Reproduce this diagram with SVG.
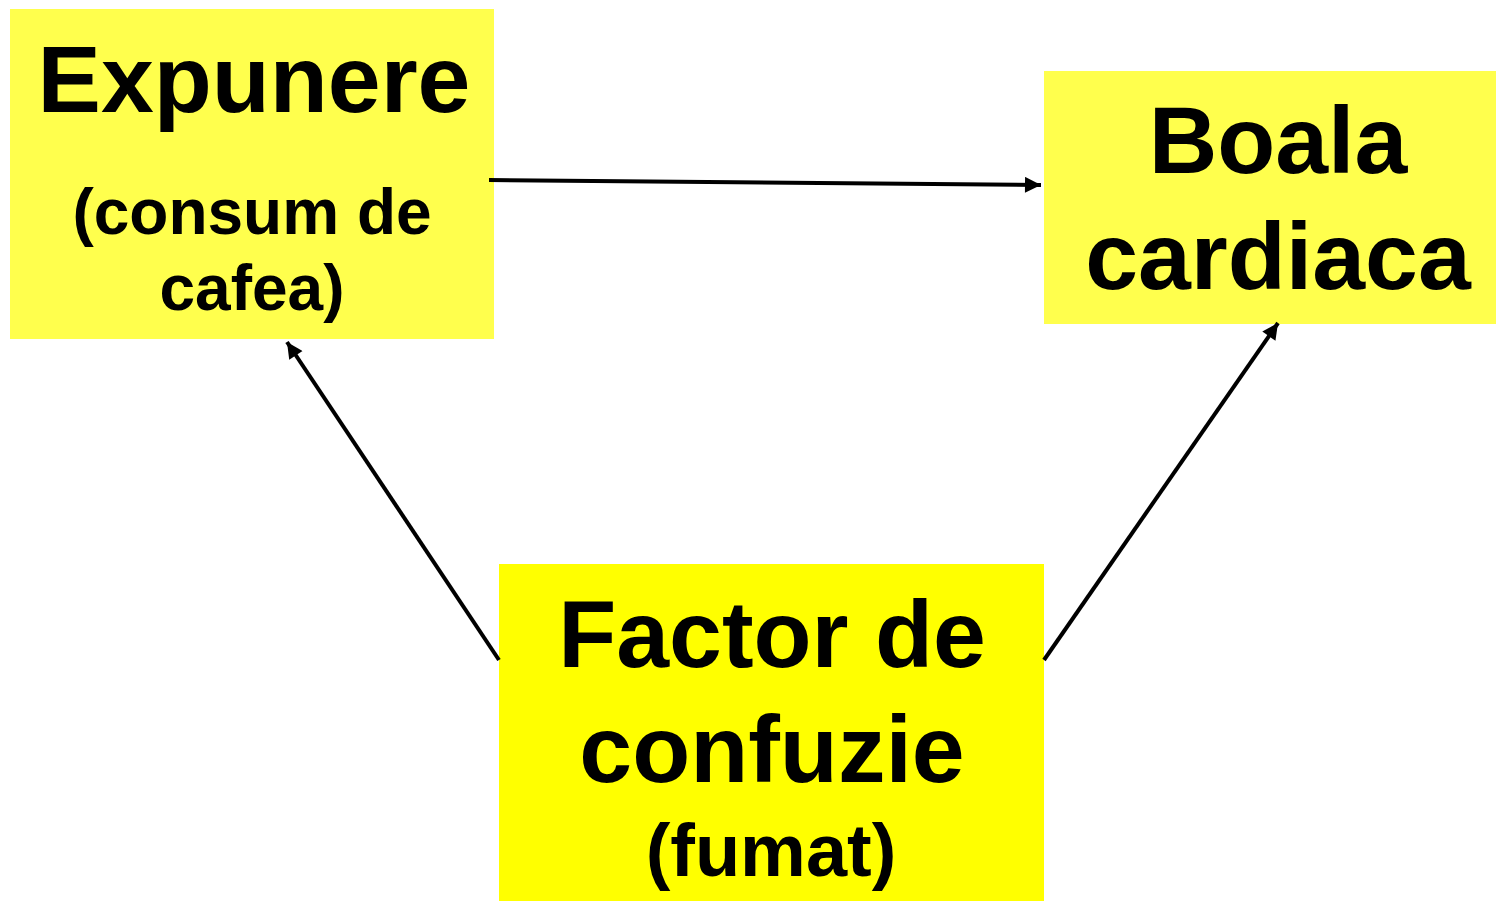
<svg xmlns="http://www.w3.org/2000/svg" width="1496" height="901" viewBox="0 0 1496 901">
  <style>
    .lbl { font-family: "Liberation Sans", Arial, sans-serif; font-weight: bold; fill: #000; text-anchor: middle; }
    .edge { stroke: #000; stroke-width: 4; fill: none; marker-end: url(#arrow); }
  </style>
  <defs>
    <marker id="arrow" viewBox="0 0 10 10" refX="10" refY="5" markerWidth="4.6" markerHeight="4" markerUnits="strokeWidth" orient="auto">
      <path d="M0,0 L10,5 L0,10 z" fill="#000"/>
    </marker>
  </defs>
  <rect width="1496" height="901" fill="#fff"/>

  <g id="exposure">
    <rect x="10" y="9" width="484" height="330" fill="#ffff4d"/>
    <text class="lbl" x="254" y="112" font-size="95">Expunere</text>
    <text class="lbl" x="252" y="234" font-size="64">(consum de</text>
    <text class="lbl" x="252" y="310" font-size="64">cafea)</text>
  </g>

  <g id="disease">
    <rect x="1044" y="71" width="452" height="253" fill="#ffff4d"/>
    <text class="lbl" x="1278" y="173" font-size="95">Boala</text>
    <text class="lbl" x="1278" y="289" font-size="95">cardiaca</text>
  </g>

  <g id="confounder">
    <rect x="499" y="564" width="545" height="337" fill="#ffff00"/>
    <text class="lbl" x="772" y="667" font-size="95">Factor de</text>
    <text class="lbl" x="772" y="782" font-size="95">confuzie</text>
    <text class="lbl" x="771" y="876" font-size="74">(fumat)</text>
  </g>

  <g id="connectors">
    <line class="edge" x1="489" y1="180" x2="1041" y2="185"/>
    <line class="edge" x1="499" y1="660" x2="287" y2="342"/>
    <line class="edge" x1="1044" y1="660" x2="1278" y2="323"/>
  </g>
</svg>
